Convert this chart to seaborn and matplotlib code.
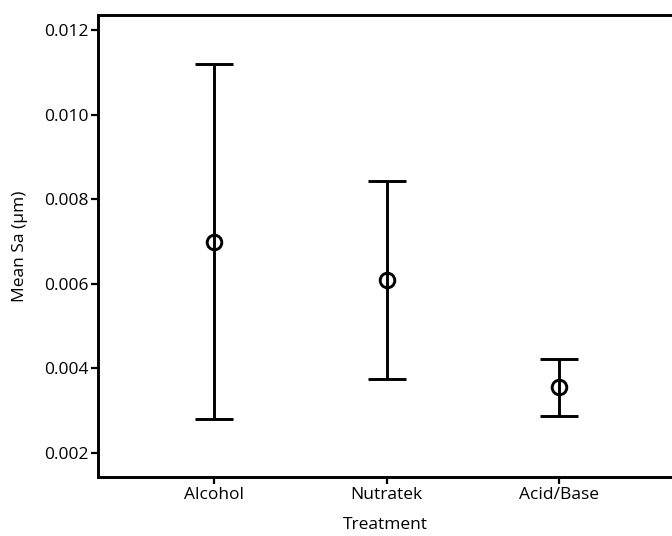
import matplotlib
matplotlib.use("Agg")
import matplotlib.pyplot as plt
import seaborn as sns
import pandas as pd

treatments = ["Alcohol", "Nutratek", "Acid/Base"]
mean_sa = [0.00700, 0.00609, 0.00355]
half_ci = [0.00419, 0.00235, 0.00068]

df = pd.DataFrame({"Treatment": treatments, "Sa": mean_sa})

sns.set_style("ticks")
plt.rcParams["font.family"] = ["Open Sans", "DejaVu Sans"]

fig = plt.figure(figsize=(6.72, 5.36), dpi=100)
ax = fig.add_axes([0.1458, 0.1101, 0.8542, 0.8619])

sns.pointplot(data=df, x="Treatment", y="Sa", errorbar=None, linestyle="none",
              marker="o", color="black", markersize=10.5, markeredgewidth=2.1,
              markerfacecolor="none", ax=ax)
# bars drawn on top so the line shows through the hollow circle
ax.errorbar(range(len(treatments)), mean_sa, yerr=half_ci, fmt="none",
            ecolor="black", elinewidth=2.1, capsize=13.5, capthick=2.1, zorder=5)

ax.set_xlim(-0.674, 2.655)
ax.set_ylim(0.001433, 0.012355)
ax.set_yticks([0.002, 0.004, 0.006, 0.008, 0.010, 0.012])
ax.set_yticklabels(["0.002", "0.004", "0.006", "0.008", "0.010", "0.012"])

for side in ["left", "top", "bottom"]:
    ax.spines[side].set_linewidth(2.1)
    ax.spines[side].set_color("black")
ax.spines["right"].set_visible(False)

ax.tick_params(axis="both", direction="out", length=5, width=1.6, colors="black",
               labelsize=12.5, pad=2)
ax.set_xlabel("Treatment", fontsize=12.5, labelpad=10, color="black")
ax.set_ylabel("Mean Sa (\u03bcm)", fontsize=12.5, labelpad=11, color="black")

fig.savefig("out.png", dpi=100)
